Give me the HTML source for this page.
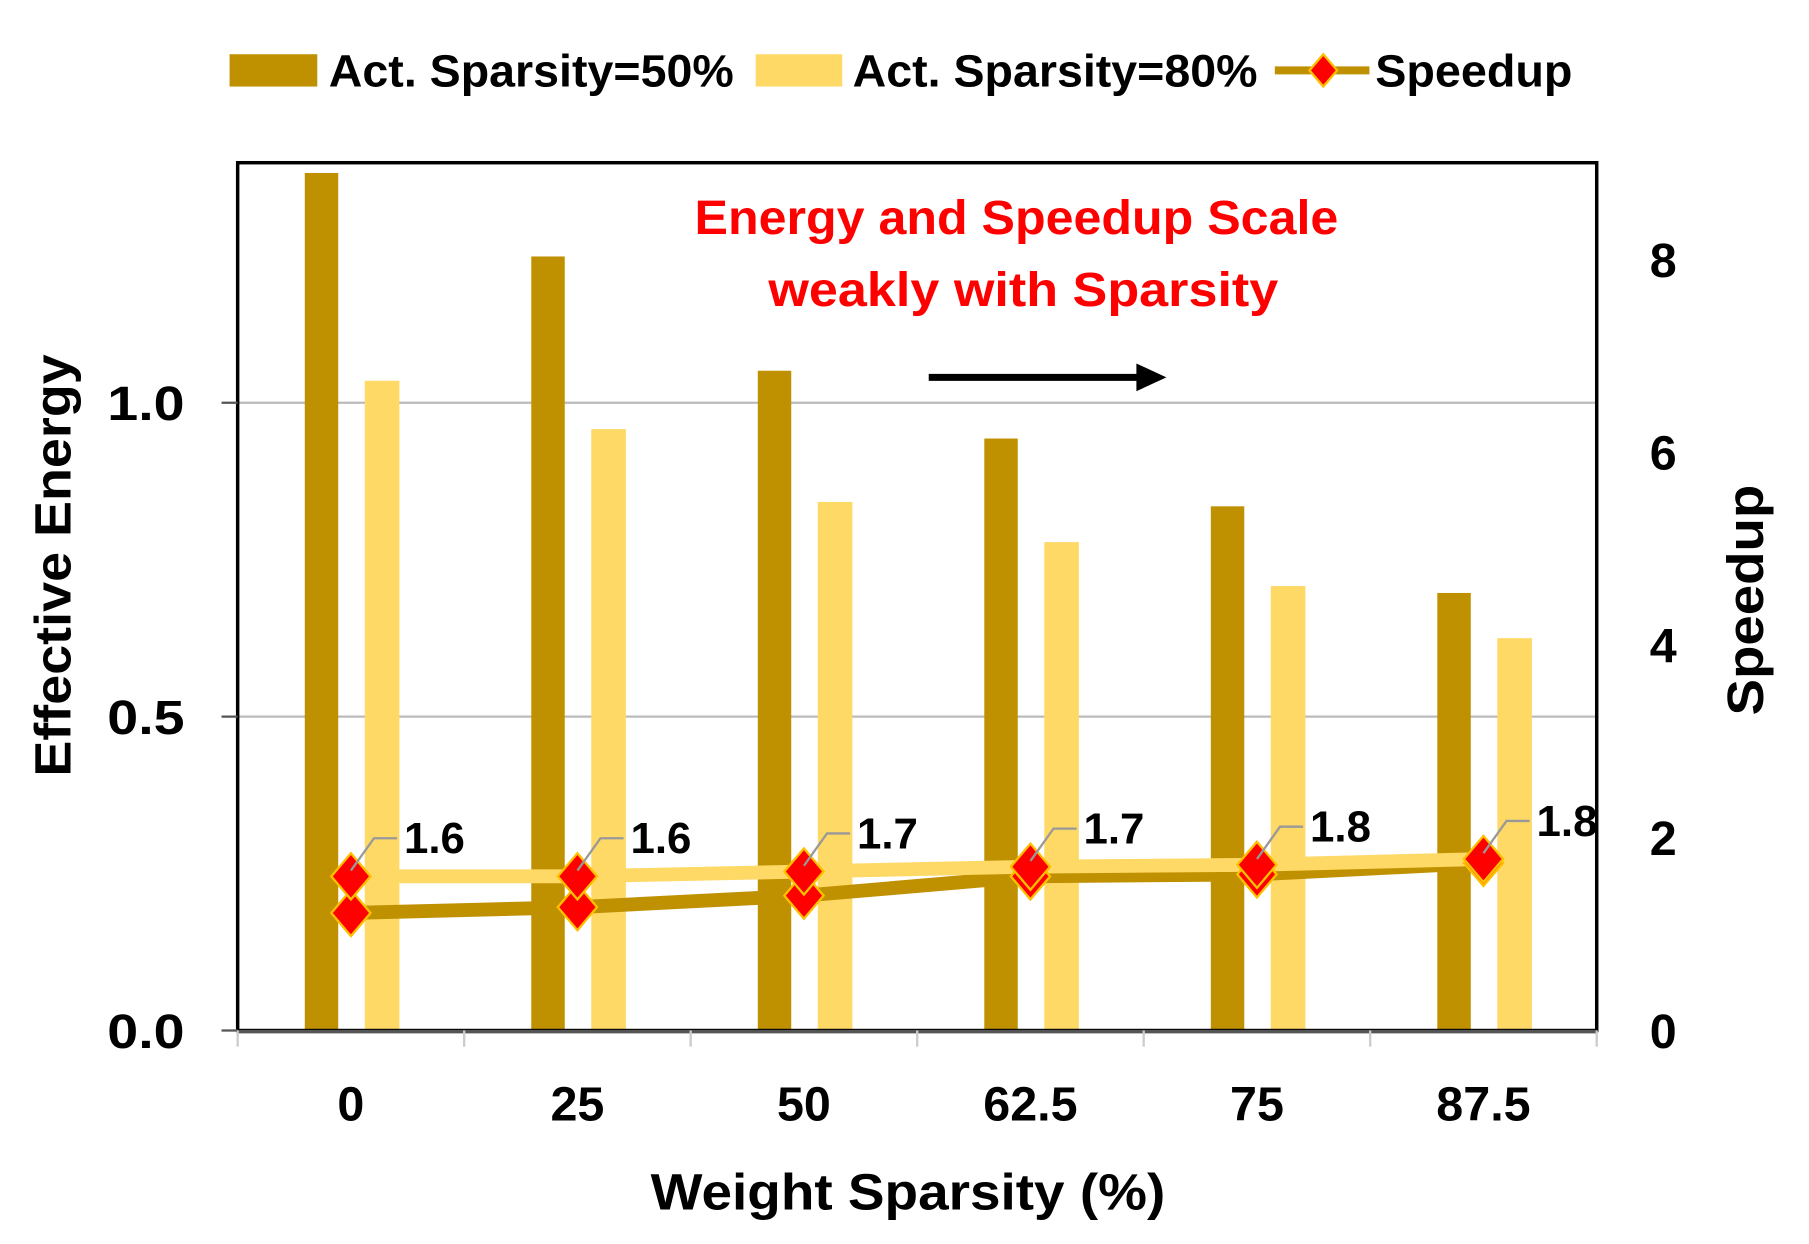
<!DOCTYPE html>
<html><head><meta charset="utf-8"><style>
html,body{margin:0;padding:0;background:#fff;}
svg{display:block;font-family:"Liberation Sans",sans-serif;font-weight:bold;}
</style></head><body>
<svg id="chart" width="1809" height="1244" viewBox="0 0 1568 1078" preserveAspectRatio="none" xmlns="http://www.w3.org/2000/svg">
<g>
<rect x="199" y="47" width="76" height="28" fill="#BF9000"/>
<text x="285" y="75" font-size="39" textLength="351" lengthAdjust="spacingAndGlyphs">Act. Sparsity=50%</text>
<rect x="655" y="47" width="75" height="28" fill="#FFD966"/>
<text x="739" y="75" font-size="39" textLength="351" lengthAdjust="spacingAndGlyphs">Act. Sparsity=80%</text>
<line x1="1105" y1="61" x2="1187" y2="61" stroke="#BF9000" stroke-width="7"/>
<path d="M1147,47 L1159,61 L1147,75 L1135,61Z" fill="#f00" stroke="#FFC000" stroke-width="2"/>
<text x="1192" y="75" font-size="39" textLength="171" lengthAdjust="spacingAndGlyphs">Speedup</text>
</g>
<g id="grid"></g>
<g id="bars"></g>
<g id="lines"></g>
<rect x="206" y="141" width="1178" height="752" fill="none" stroke="#000" stroke-width="3"/>
<line x1="206" y1="894" x2="1384" y2="894" stroke="#555" stroke-width="3"/>
<g id="ticks"></g>
<text x="602" y="203" font-size="42" fill="#f00" textLength="558" lengthAdjust="spacingAndGlyphs">Energy and Speedup Scale</text>
<text x="666" y="265" font-size="42" fill="#f00" textLength="442" lengthAdjust="spacingAndGlyphs">weakly with Sparsity</text>
<line x1="805" y1="327" x2="990" y2="327" stroke="#000" stroke-width="6"/>
<path d="M985,315 L1011,327 L985,339Z" fill="#000"/>
<text transform="translate(61,490) rotate(-90)" font-size="44" text-anchor="middle" textLength="366" lengthAdjust="spacingAndGlyphs">Effective Energy</text>
<text transform="translate(1528,520) rotate(-90)" font-size="44" text-anchor="middle" textLength="200" lengthAdjust="spacingAndGlyphs">Speedup</text>
<text x="787" y="1048" font-size="44" text-anchor="middle" textLength="446" lengthAdjust="spacingAndGlyphs">Weight Sparsity (%)</text>
</svg>
<script>
const categories = ["0","25","50","62.5","75","87.5"];
const energy50 = [1.366,1.233,1.051,0.943,0.835,0.697];
const energy80 = [1.035,0.958,0.842,0.778,0.708,0.625];
const speedup80 = [1.6,1.6,1.65,1.7,1.72,1.78];
const speedup50 = [1.22,1.28,1.4,1.6,1.62,1.74];
const speedupLabels = ["1.6","1.6","1.7","1.7","1.8","1.8"];
const yTicks = [0,0.5,1.0];
const yTickLabels = ["0.0","0.5","1.0"];
const y2Ticks = [0,2,4,6,8];

const NS="http://www.w3.org/2000/svg";
const L=206,R=1384,T=141,B=893;
const step=(R-L)/categories.length;
const x=i=>L+step*(i+0.5);
const y=v=>B-v*544;
const y2=v=>B-v*83.5;
function mk(tag,attrs,parent){const e=document.createElementNS(NS,tag);for(const k in attrs)e.setAttribute(k,attrs[k]);parent.appendChild(e);return e;}
const grid=document.getElementById('grid'),bars=document.getElementById('bars'),lines=document.getElementById('lines'),ticks=document.getElementById('ticks'),svg=document.getElementById('chart');

yTicks.forEach((t,i)=>{
  if(t>0){const g=mk('line',{x1:L,x2:R,y1:y(t),y2:y(t),stroke:'#bbb','stroke-width':2},grid);
  
  }
  const tk=mk('line',{x1:L-14,x2:L,y1:y(t),y2:y(t),stroke:'#555','stroke-width':2},ticks);
  
  
  const lb=mk('text',{x:160,y:y(t)+15,'font-size':42,'text-anchor':'end',textLength:67,lengthAdjust:'spacingAndGlyphs'},svg);
  lb.textContent=yTickLabels[i];
  
  
});
y2Ticks.forEach(t=>{
  const lb=mk('text',{x:1430,y:y2(t)+15,'font-size':42},svg);
  lb.textContent=String(t);
  
  
});
for(let i=0;i<=categories.length;i++){
  const tk=mk('line',{x1:L+step*i,x2:L+step*i,y1:B,y2:B+14,stroke:'#ccc','stroke-width':2},ticks);
  
  
}
categories.forEach((c,i)=>{
  const b1=mk('rect',{x:x(i)-40,y:y(energy50[i]),width:29,height:B-y(energy50[i]),fill:'#BF9000'},bars);
  
  
  const b2=mk('rect',{x:x(i)+12,y:y(energy80[i]),width:30,height:B-y(energy80[i]),fill:'#FFD966'},bars);
  
  
  const lb=mk('text',{x:x(i),y:971,'font-size':42,'text-anchor':'middle'},svg);
  lb.textContent=c;
  
  
});
function series(vals,color,name){
  const p=mk('polyline',{points:vals.map((v,i)=>x(i)+','+y2(v)).join(' '),fill:'none',stroke:color,'stroke-width':12},lines);
  
  
}
function markers(vals,name){
  vals.forEach((v,i)=>{const cx=x(i),cy=y2(v);
    const m=mk('path',{d:`M${cx},${cy-20} L${cx+17},${cy} L${cx},${cy+20} L${cx-17},${cy}Z`,fill:'#f00',stroke:'#FFC000','stroke-width':2},lines);
    
    });
}
series(speedup50,'#BF9000','act50');
series(speedup80,'#FFD966','act80');
markers(speedup50,'act50');
markers(speedup80,'act80');
speedup80.forEach((v,i)=>{const cx=x(i),cy=y2(v);
  const ln=mk('polyline',{points:`${cx},${cy-5} ${cx+20},${cy-33} ${cx+40},${cy-33}`,fill:'none',stroke:'#999','stroke-width':2},lines);
  
  
  const t=mk('text',{x:cx+46,y:cy-20,'font-size':38},lines);
  t.textContent=speedupLabels[i];
  
  
});
</script>
</body></html>
